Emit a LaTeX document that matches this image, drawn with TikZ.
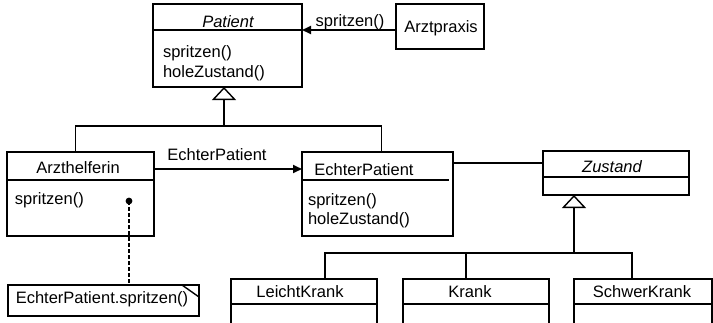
\documentclass[tikz,border=0pt]{standalone}
\usepackage{fontspec}
\setmainfont{Liberation Sans}
\usetikzlibrary{arrows.meta}
\begin{document}
\begin{tikzpicture}[x=1pt,y=-1pt,
  cls/.style={draw, line width=1.4pt, inner sep=0pt, outer sep=0pt, anchor=north west},
  hdr/.style={inner sep=0pt, outer sep=0pt, anchor=north west},
  txt/.style={inner sep=0pt, outer sep=0pt, font=\fontsize{16.5}{19}\selectfont},
  ln/.style={line width=1.4pt},
  call/.style={line width=2pt, -{Triangle[length=9pt,width=8pt]}},
  inh/.style={line width=1.4pt, -{Triangle[open,length=13pt,width=24pt]}}]
\useasboundingbox (0,0) rectangle (713,322);
\clip (0,0) rectangle (713,322);

% Patient
\node[cls, minimum width=149pt, minimum height=26pt] (phdr) at (153,4) {};
\node[cls, minimum width=149pt, minimum height=57pt] (pbody) at (153,30) {};
\node[txt, anchor=base] (pname) at (228,27) {\itshape Patient};
\node[txt, anchor=base west] (pm1) at (163,57) {spritzen()};
\node[txt, anchor=base west] (pm2) at (163,77) {holeZustand()};

% Arztpraxis
\node[cls, minimum width=88pt, minimum height=45pt] (praxis) at (396,4) {};
\node[txt, anchor=base] (praxisname) at (441,32) {Arztpraxis};
\draw[call] (praxis.west |- phdr.south) -- (phdr.south east);
\node[txt, anchor=base] (l1) at (350,26) {spritzen()};

% Arzthelferin
\node[cls, minimum width=147pt, minimum height=28pt] (ahdr) at (7,152) {};
\node[cls, minimum width=147pt, minimum height=56pt] (abody) at (7,180) {};
\node[txt, anchor=base] (aname) at (78,173) {Arzthelferin};
\node[txt, anchor=base west] (am1) at (15,204) {spritzen()};

% EchterPatient
\node[cls, minimum width=151pt, minimum height=84pt] (ep) at (302,152) {};
\node[hdr, minimum width=151pt, minimum height=28pt] (ehdr) at (302,152) {};
\draw[ln] (ehdr.south west) -- ([xshift=-4pt]ehdr.south east);
\node[txt, anchor=base] (ename) at (364,175) {EchterPatient};
\node[txt, anchor=base west] (em1) at (308,205) {spritzen()};
\node[txt, anchor=base west] (em2) at (308,224) {holeZustand()};

\draw[call] ([yshift=-3pt]ahdr.east) -- ([yshift=-3pt]ehdr.west);
\node[txt, anchor=base] (l2) at (217,160) {EchterPatient};

% Zustand
\node[cls, minimum width=146pt, minimum height=26pt] (zhdr) at (543,151) {};
\node[cls, minimum width=146pt, minimum height=18pt] (zbody) at (543,177) {};
\node[txt, anchor=base] (zname) at (612,172) {\itshape Zustand};
\coordinate (ez) at ([yshift=3pt]ehdr.east);
\draw[ln] (ez) -- (ez -| zhdr.west);

% Inheritance Patient
\coordinate (pj) at (224,126);
\draw[inh] (pj) -- (pj |- pbody.south);
\draw[ln] ([xshift=-5pt]ahdr.north) |- (pj) -| ([xshift=4pt]ehdr.north);

% Zustand subclasses
\node[cls, minimum width=146pt, minimum height=25pt] (lhdr) at (231,279) {};
\node[cls, minimum width=146pt, minimum height=40pt] (lbody) at (231,304) {};
\node[txt, anchor=base] (lname) at (300,297) {LeichtKrank};
\node[cls, minimum width=146pt, minimum height=25pt] (khdr) at (403,279) {};
\node[cls, minimum width=146pt, minimum height=40pt] (kbody) at (403,304) {};
\node[txt, anchor=base] (kname) at (470,297) {Krank};
\node[cls, minimum width=138pt, minimum height=25pt] (shdr) at (574,279) {};
\node[cls, minimum width=138pt, minimum height=40pt] (sbody) at (574,304) {};
\node[txt, anchor=base] (sname) at (642,297) {SchwerKrank};

\coordinate (zj) at (574,253);
\draw[inh] (zj) -- (zj |- zbody.south);
\coordinate (lt) at ([xshift=21pt]lhdr.north);
\coordinate (kt) at ([xshift=-10pt]khdr.north);
\coordinate (st) at ([xshift=-11pt]shdr.north);
\draw[ln] (lt) -- (lt |- zj) -- (st |- zj) -- (st);
\draw[ln] (kt) -- (kt |- zj);

% Note
\node[cls, minimum width=191pt, minimum height=31pt] (note) at (8,285) {};
\draw[ln] ([xshift=-17pt]note.north east) -- ([yshift=-12pt]note.north east);
\node[txt, anchor=base] (ntext) at (102,303) {EchterPatient.spritzen()};
\coordinate (dot) at (129,201);
\fill (dot) circle (3.4pt);
\draw[line width=2.2pt, dash pattern=on 4pt off 2pt] (dot) -- (dot |- note.north);
\end{tikzpicture}
\end{document}
